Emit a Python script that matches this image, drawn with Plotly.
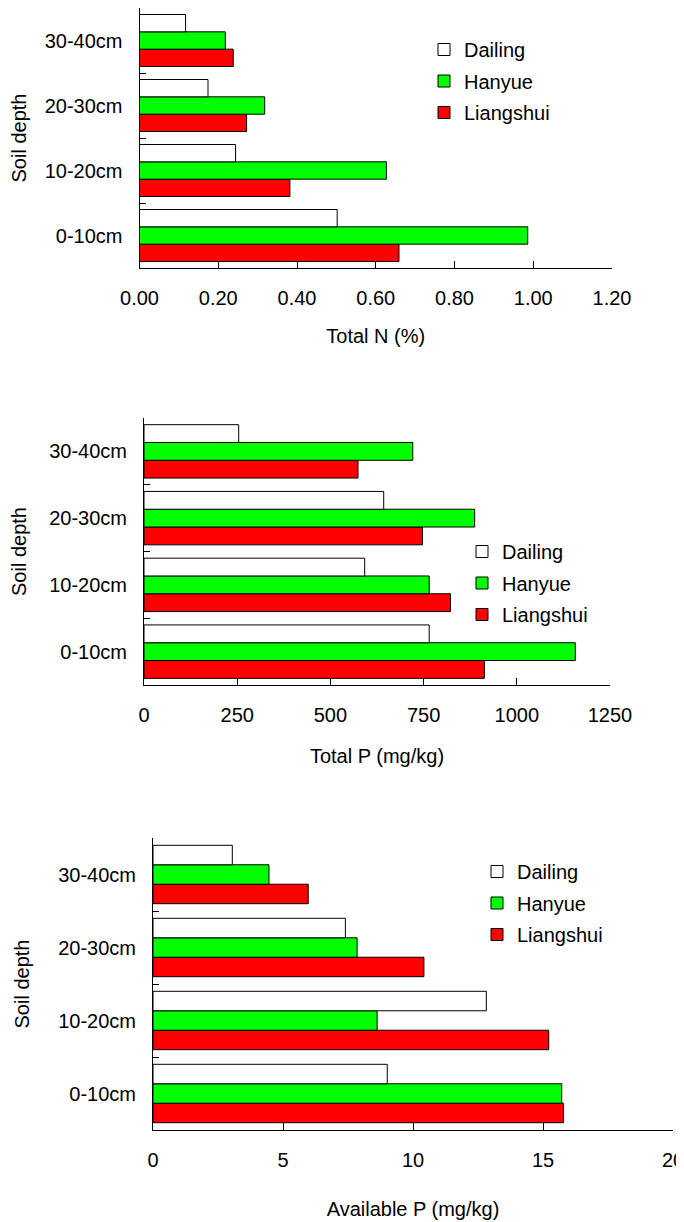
import plotly.graph_objects as go

depths = ["0-10cm", "10-20cm", "20-30cm", "30-40cm"]
sites = ["Dailing", "Hanyue", "Liangshui"]
colors = {"Dailing": "#FFFFFF", "Hanyue": "#00FF00", "Liangshui": "#FF0000"}

# values listed in depth order 0-10, 10-20, 20-30, 30-40
total_n = {
    "Dailing": [0.502, 0.244, 0.174, 0.117],
    "Hanyue": [0.986, 0.627, 0.318, 0.218],
    "Liangshui": [0.659, 0.382, 0.272, 0.238],
}
total_p = {
    "Dailing": [765, 592, 643, 254],
    "Hanyue": [1157, 765, 887, 721],
    "Liangshui": [913, 822, 747, 574],
}
avail_p = {
    "Dailing": [9.01, 12.82, 7.40, 3.05],
    "Hanyue": [15.72, 8.62, 7.85, 4.46],
    "Liangshui": [15.79, 15.22, 10.42, 5.97],
}

x_titles = ["Total N (%)", "Total P (mg/kg)", "Available P (mg/kg)"]
x_ranges = [[0, 1.2], [0, 1250], [0, 20]]
x_dticks = [0.2, 250, 5]
x_formats = [".2f", "d", "d"]

# the page body has an 8px margin, so the figure is drawn 8px in from the window edge
OFF = 8
W, H = 684 - OFF, 1222 - OFF
FONT = "Liberation Sans, Arial, sans-serif"
FS = 20

# panel geometry in window pixels: (left, right, top, bottom)
panels = [(139.5, 612, 8, 268), (144, 610, 418, 685), (153, 673, 838, 1130)]
legend_pos = [(424, 30), (462, 532), (477, 852)]
ytitle_standoff = [12, 17, 23]
xtitle_standoff = [20, 23, 31]
rank = {"Dailing": 1, "Hanyue": 2, "Liangshui": 3}

fig = go.Figure()
datasets = [total_n, total_p, avail_p]
for i, data in enumerate(datasets):
    xa = "x" if i == 0 else f"x{i+1}"
    ya = "y" if i == 0 else f"y{i+1}"
    lg = "legend" if i == 0 else f"legend{i+1}"
    for s in ["Liangshui", "Hanyue", "Dailing"]:
        fig.add_trace(go.Bar(
            y=depths, x=data[s], name=s, orientation="h",
            marker=dict(color=colors[s], line=dict(color="#000000", width=1)),
            xaxis=xa, yaxis=ya, legend=lg, legendgroup=f"{s}{i}",
            legendrank=rank[s],
        ))

layout = dict(
    width=W, height=H,
    margin=dict(l=0, r=0, t=0, b=0),
    paper_bgcolor="white", plot_bgcolor="white",
    barmode="group", bargap=0.2, bargroupgap=0,
    font=dict(family=FONT, size=FS, color="#000000"),
)

for i, (l, r, t, b) in enumerate(panels):
    l, r, t, b = l - OFF, r - OFF, t - OFF, b - OFF
    sx = "" if i == 0 else str(i + 1)
    layout[f"xaxis{sx}"] = dict(
        domain=[l / W, r / W], anchor=f"y{sx}", automargin=False,
        range=x_ranges[i], dtick=x_dticks[i], tick0=0, tickformat=x_formats[i],
        showline=True, linecolor="#000000", linewidth=1,
        ticks="inside", ticklen=7, tickcolor="#000000", tickwidth=1,
        showgrid=False, zeroline=False, ticklabelstandoff=12,
        ticklabeloverflow="allow",
        title=dict(text=x_titles[i], standoff=xtitle_standoff[i], font=dict(size=FS)),
        fixedrange=True,
    )
    layout[f"yaxis{sx}"] = dict(
        domain=[1 - b / H, 1 - t / H], anchor=f"x{sx}", automargin=False,
        type="category", categoryorder="array", categoryarray=depths,
        range=[-0.5, 3.5],
        showline=True, linecolor="#000000", linewidth=1,
        ticks="inside", ticklen=6, tickcolor="#000000", tickwidth=1,
        tickson="boundaries", ticklabelstandoff=12,
        showgrid=False, zeroline=False,
        title=dict(text="Soil depth", standoff=ytitle_standoff[i], font=dict(size=FS)),
        fixedrange=True,
    )
    lx, ly = legend_pos[i]
    layout["legend" if i == 0 else f"legend{i+1}"] = dict(
        x=(lx - OFF) / W, y=1 - (ly - OFF) / H, xanchor="left", yanchor="top",
        traceorder="grouped", tracegroupgap=2.5,
        bgcolor="rgba(0,0,0,0)", borderwidth=0,
        font=dict(family=FONT, size=FS, color="#000000"),
    )

fig.update_layout(**layout)
fig.write_html("out.html")
